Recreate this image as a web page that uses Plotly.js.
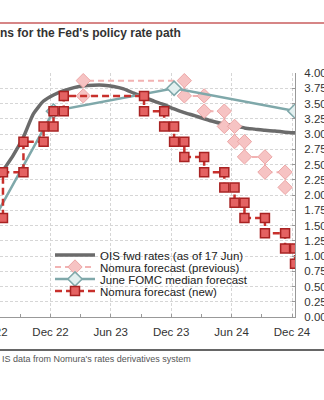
<!DOCTYPE html>
<html>
<head>
<meta charset="utf-8">
<script src="https://cdn.plot.ly/plotly-3.0.1.min.js"></script>
<style>
html,body{margin:0;padding:0;background:#fff;overflow:hidden}
#chart{width:324px;height:400px}
</style>
</head>
<body>
<div id="chart"></div>
<script>
// ---- data ----
const seriesNames = ["OIS fwd rates (as of 17 Jun)", "Nomura forecast (previous)", "June FOMC median forecast", "Nomura forecast (new)"];

const oisDates = ["2022-06-10","2022-07-10","2022-08-10","2022-09-10","2022-10-10","2022-11-10","2022-12-10",
  "2023-01-10","2023-02-10","2023-03-10","2023-04-10","2023-05-10","2023-06-10","2023-07-10","2023-08-10",
  "2023-09-10","2023-10-10","2023-11-10","2023-12-10","2024-01-10","2024-02-10","2024-03-10","2024-04-10",
  "2024-05-10","2024-06-10","2024-07-10","2024-08-10","2024-09-10","2024-10-10","2024-11-10","2024-12-10"];
const oisRates = [2.15,2.40,2.65,2.95,3.33,3.54,3.64,
  3.71,3.76,3.79,3.80,3.80,3.78,3.74,3.67,
  3.60,3.54,3.48,3.41,3.35,3.30,3.25,3.20,
  3.16,3.13,3.10,3.08,3.06,3.05,3.03,3.02];

const prevDates = ["2023-03-10","2023-03-10","2024-01-10","2024-01-10","2024-03-10","2024-03-10",
  "2024-05-10","2024-05-10","2024-06-10","2024-06-10","2024-07-10","2024-07-10",
  "2024-09-10","2024-09-10","2024-11-10","2024-11-10"];
const prevRates = [3.625,3.875,3.875,3.625,3.625,3.375,
  3.375,3.125,3.125,2.875,2.875,2.625,
  2.625,2.375,2.375,2.125];

const fomcDates = ["2022-06-10","2022-12-10","2023-12-10","2024-12-10"];
const fomcRates = [1.58,3.375,3.75,3.375];

const newDates = ["2022-06-10","2022-07-10","2022-07-10","2022-09-10","2022-09-10","2022-11-10","2022-11-10",
  "2022-12-10","2022-12-10","2023-01-10","2023-01-10","2023-09-10","2023-09-10","2023-11-10","2023-11-10",
  "2023-12-10","2023-12-10","2024-01-10","2024-01-10","2024-03-10","2024-03-10","2024-05-10","2024-05-10",
  "2024-06-10","2024-06-10","2024-07-10","2024-07-10","2024-09-10","2024-09-10","2024-11-10","2024-11-10",
  "2024-12-10","2024-12-10"];
const newRates = [1.625,1.625,2.375,2.375,2.875,2.875,3.125,
  3.125,3.375,3.375,3.625,3.625,3.375,3.375,3.125,
  3.125,2.875,2.875,2.625,2.625,2.375,2.375,2.125,
  2.125,1.875,1.875,1.625,1.625,1.375,1.375,1.125,
  1.125,0.875];

const xTickVals = ["2022-12-01","2023-06-01","2023-12-01","2024-06-01","2024-12-01"];
const xTickText = ["Dec 22","Jun 23","Dec 23","Jun 24","Dec 24"];
const xMinorVals = ["2022-09-01","2023-03-01","2023-09-01","2024-03-01","2024-09-01"];
const hiddenTickText = "Jun 22";
const titleText = "ns for the Fed's policy rate path";
const sourceText = "IS data from Nomura's rates derivatives system";

// ---- chart ----
const FONT = '"Liberation Sans", Arial, Helvetica, sans-serif';

const traces = [
  {x: oisDates, y: oisRates, name: seriesNames[0], type: 'scatter', mode: 'lines',
   line: {color: '#6b6b6b', width: 3.5, shape: 'spline', smoothing: 0.6}, legend: 'legend'},
  {x: prevDates, y: prevRates, name: seriesNames[1], type: 'scatter', mode: 'lines+markers',
   line: {color: '#f2b3b3', width: 2, dash: '6px,4px'},
   marker: {symbol: 'diamond', size: 11, color: '#f6c3c3', line: {color: '#eca6a6', width: 1}}, legend: 'legend2'},
  {x: fomcDates, y: fomcRates, name: seriesNames[2], type: 'scatter', mode: 'lines+markers',
   line: {color: '#7fa8aa', width: 2.5},
   marker: {symbol: 'diamond', size: 11, color: '#e3f0f0', line: {color: '#7fa8aa', width: 1.5}}, legend: 'legend3'},
  {x: newDates, y: newRates, name: seriesNames[3], type: 'scatter', mode: 'lines+markers',
   line: {color: '#c8302c', width: 2.5, dash: '7px,4px'},
   marker: {symbol: 'square', size: 9, color: '#e46262', line: {color: '#a82222', width: 1.5}}, legend: 'legend4'}
];

const plotTop = 73, plotBottom = 317, plotH = plotBottom - plotTop, plotW = 295;
const py = (pix) => (plotBottom - pix) / plotH;
const px = (pix) => pix / plotW;

function leg(yPix) {
  return {x: px(50), xanchor: 'left', y: py(yPix), yanchor: 'middle', bgcolor: 'rgba(0,0,0,0)',
          borderwidth: 0, itemwidth: 40, font: {family: FONT, size: 11.5, color: '#222'}};
}

const layout = {
  width: 324, height: 400,
  margin: {l: 0, r: 324 - plotW, t: plotTop, b: 400 - plotBottom, pad: 0},
  paper_bgcolor: '#ffffff', plot_bgcolor: '#ffffff',
  font: {family: FONT, size: 11.5, color: '#333'},
  title: {text: titleText, x: 0, xref: 'container', xanchor: 'left', y: 1 - 33 / 400, yref: 'container',
          yanchor: 'middle', font: {family: FONT, size: 12, weight: 'bold', color: '#333'}},
  xaxis: {type: 'date', range: ['2022-07-01', '2024-12-10'], tickmode: 'array', tickvals: xTickVals, ticktext: xTickText,
          ticks: 'inside', ticklen: 3, tickcolor: '#999', showline: true, linecolor: '#999', linewidth: 1,
          showgrid: true, gridcolor: '#d6d6d6', griddash: '3px,2px', gridwidth: 1, zeroline: false,
          tickfont: {family: FONT, size: 11.5, color: '#333'}, ticklabelstandoff: 4,
          minor: {tickmode: 'array', tickvals: xMinorVals, ticks: 'inside', ticklen: 3, tickcolor: '#999', showgrid: false},
          fixedrange: true},
  yaxis: {side: 'right', range: [0, 4], tick0: 0, dtick: 0.25, tickformat: '.2f',
          ticks: 'inside', ticklen: 3, tickcolor: '#999', showline: true, linecolor: '#999', linewidth: 1,
          showgrid: true, gridcolor: '#d6d6d6', griddash: '3px,2px', gridwidth: 1, zeroline: false,
          tickfont: {family: FONT, size: 11.5, color: '#333'}, ticklabelstandoff: 6, fixedrange: true},
  showlegend: true,
  legend: leg(255), legend2: leg(267), legend3: leg(279), legend4: leg(291),
  shapes: [
    {type: 'line', xref: 'paper', yref: 'paper', x0: -0.05, x1: 1.2, y0: py(23), y1: py(23),
     line: {color: '#c95c5e', width: 1.5}},
    {type: 'line', xref: 'paper', yref: 'paper', x0: -0.05, x1: 1.2, y0: py(350), y1: py(350),
     line: {color: '#666', width: 2}}
  ],
  annotations: [
    {text: sourceText, xref: 'paper', yref: 'paper', x: 0, xanchor: 'left', y: py(359), yanchor: 'middle',
     showarrow: false, font: {family: FONT, size: 9, color: '#555'}},
    {text: hiddenTickText, xref: 'paper', yref: 'paper', x: px(-9.9), xanchor: 'center', y: py(332), yanchor: 'middle',
     showarrow: false, font: {family: FONT, size: 11.5, color: '#333'}}
  ]
};

Plotly.newPlot('chart', traces, layout, {staticPlot: true, displayModeBar: false});
</script>
</body>
</html>
